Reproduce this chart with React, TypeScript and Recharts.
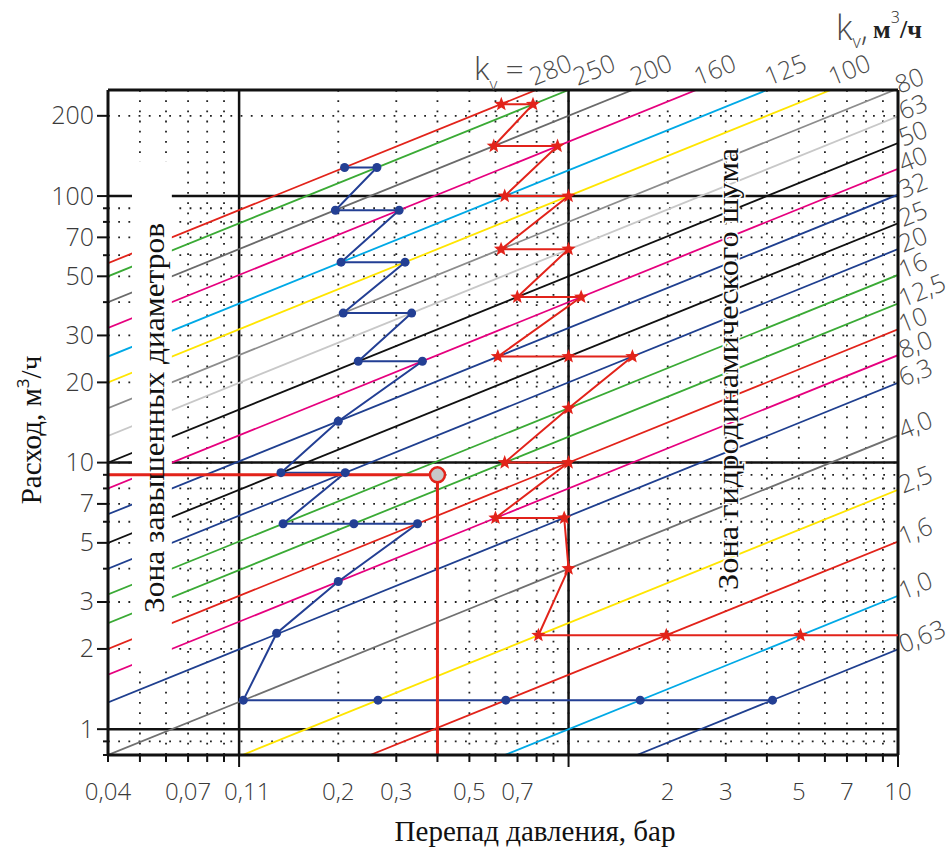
import React from "react";
import {
  LineChart,
  Line,
  XAxis,
  YAxis,
  CartesianGrid,
  ReferenceLine,
  ReferenceArea,
  LabelList,
} from "recharts";

// Kv lines, m3/h (labels as printed on the top and right edges)
const kvValues = [280, 250, 200, 160, 125, 100, 80, 63, 50, 40, 32, 25, 20, 16, 12.5, 10, 8, 6.3, 4, 2.5, 1.6, 1, 0.63];
const kvLabels = ["280", "250", "200", "160", "125", "100", "80", "63", "50", "40", "32", "25", "20", "16", "12,5", "10", "8,0", "6,3", "4,0", "2,5", "1,6", "1,0", "0,63"];
const kvColors = [
  "#e2231a", "#3aaa35", "#6a6a6a", "#e6007e", "#00a9e6", "#ffe500", "#8c8c8c", "#c8c8c8",
  "#111111", "#e6007e", "#1f3f8f", "#111111", "#1f3f8f", "#3aaa35", "#3aaa35", "#e2231a",
  "#e6007e", "#1f3f8f", "#707070", "#ffe500", "#e2231a", "#00a9e6", "#1f3f8f",
];

// axes
const xTicks = [0.04, 0.05, 0.06, 0.07, 0.08, 0.09, 0.1, 0.2, 0.3, 0.4, 0.5, 0.6, 0.7, 0.8, 0.9, 1, 2, 3, 4, 5, 6, 7, 8, 9, 10];
const xTickLabels: Record<string, string> = {
  "0.04": "0,04", "0.07": "0,07", "0.1": "0,11", "0.2": "0,2", "0.3": "0,3",
  "0.5": "0,5", "0.7": "0,7", "2": "2", "3": "3", "5": "5", "7": "7", "10": "10",
};
const yTicks = [0.8, 0.9, 1, 2, 3, 4, 5, 6, 7, 8, 9, 10, 20, 30, 40, 50, 60, 70, 80, 90, 100, 200];
const yTickLabels: Record<string, string> = {
  "1": "1", "2": "2", "3": "3", "5": "5", "7": "7", "10": "10",
  "20": "20", "30": "30", "50": "50", "70": "70", "100": "100", "200": "200",
};
const majorX = [0.1, 1];
const majorY = [1, 10, 100];

// blue selection path (dots), pressure drop in bar / flow in m3/h
const blueDp = [0.209, 0.262, 0.196, 0.306, 0.204, 0.319, 0.207, 0.334, 0.23, 0.36, 0.2, 0.134, 0.21, 0.136, 0.223, 0.348, 0.2, 0.13, 0.103, 0.264, 0.645, 1.65, 4.16];
const blueQ = [128, 128, 88.5, 88.5, 56.5, 56.5, 36.4, 36.4, 24, 24, 14.3, 9.17, 9.17, 5.9, 5.9, 5.9, 3.58, 2.29, 1.285, 1.285, 1.285, 1.285, 1.285];

// red selection path (stars)
const redDp = [0.625, 0.78, 0.593, 0.926, 0.64, 1.0, 0.624, 1.0, 0.699, 1.092, 0.61, 1.0, 1.5625, 1.0, 0.64, 1.0, 0.6, 0.97, 1.0, 0.81, 1.98, 5.06, 10];
const redQ = [221, 221, 154, 154, 100, 100, 63.2, 63.2, 41.8, 41.8, 25, 25, 25, 16, 10, 10, 6.2, 6.2, 4.0, 2.25, 2.25, 2.25, 2.25];

// example operating point
const opDp = [0.04, 0.4, 0.4];
const opQ = [9, 9, 0.8];

const X_MIN = 0.04;
const X_MAX = 10;
const Y_MIN = 0.8;
const Y_MAX = 250;

const kvSeries = kvValues.map((kv, i) => {
  const x0 = Math.max(X_MIN, (Y_MIN / kv) ** 2);
  const x1 = Math.min(X_MAX, (Y_MAX / kv) ** 2);
  return [
    { x: x0, y: kv * Math.sqrt(x0) },
    { x: x1, y: kv * Math.sqrt(x1), lbl: kvLabels[i] },
  ];
});
const blueData = blueDp.map((x, i) => ({ x, y: blueQ[i] }));
const redData = redDp.map((x, i) => ({ x, y: redQ[i] }));
const opData = opDp.map((x, i) => ({ x, y: opQ[i] }));

const SANS = "'Open Sans', 'DejaVu Sans', sans-serif";
const SERIF = "'Liberation Serif', 'DejaVu Serif', serif";
const RED = "#e2231a";
const BLUE = "#233f94";

const XTick = (props: any) => {
  const { x, y, payload } = props;
  const v = payload.value;
  const label = xTickLabels[String(v)];
  const long = v === 0.1 || v === 1 || v === 10;
  return (
    <g>
      <line x1={x} x2={x} y1={y} y2={y + (long ? 12 : 7)} stroke="#111" strokeWidth={2} />
      {label && (
        <text
          x={v === 0.1 ? x - 15 : x}
          y={y + 45}
          textAnchor={v === 0.1 ? "start" : "middle"}
          fontFamily={SANS}
          fontWeight={300}
          fontSize={24}
          fill="#3a3a3a"
        >
          {label}
        </text>
      )}
    </g>
  );
};

const YTick = (props: any) => {
  const { x, y, payload } = props;
  const label = yTickLabels[String(payload.value)];
  return (
    <g>
      <line x1={x - (label ? 11 : 5)} x2={x} y1={y} y2={y} stroke="#111" strokeWidth={2} />
      {label && (
        <text x={x - 14} y={y + 8.5} textAnchor="end" fontFamily={SANS} fontWeight={300} fontSize={25} fill="#3a3a3a">
          {label}
        </text>
      )}
    </g>
  );
};

const renderKvLabel = (props: any) => {
  const { x, y, value } = props;
  if (!value) return null;
  const right = x > 890;
  const nudge = value === "280" ? -4 : value === "250" ? 7 : 0;
  const tx = right ? x + 5 : x + 2 + nudge;
  const ty = right ? y + 4 : y - 4;
  return (
    <text
      transform={`translate(${tx},${ty}) rotate(-22)`}
      fontFamily={SANS}
      fontWeight={300}
      fontSize={25}
      fill="#4a4a4a"
    >
      {value}
    </text>
  );
};

const BlueDot = (props: any) => {
  const { cx, cy, index } = props;
  return <circle key={`b${index}`} cx={cx} cy={cy} r={4.5} fill={BLUE} />;
};

const starPoints = (cx: number, cy: number, ro: number, ri: number) => {
  const pts: string[] = [];
  for (let k = 0; k < 10; k++) {
    const r = k % 2 === 0 ? ro : ri;
    const a = -Math.PI / 2 + (k * Math.PI) / 5;
    pts.push(`${cx + r * Math.cos(a)},${cy + r * Math.sin(a)}`);
  }
  return pts.join(" ");
};

const RedStar = (props: any) => {
  const { cx, cy, index } = props;
  if (index === redData.length - 1) return <g key={`r${index}`} />;
  return <polygon key={`r${index}`} points={starPoints(cx, cy, 7.5, 3.2)} fill={RED} />;
};

const OpDot = (props: any) => {
  const { cx, cy, index } = props;
  if (index !== 1) return <g key={`o${index}`} />;
  return <circle key={`o${index}`} cx={cx} cy={cy} r={7.5} fill="#c8c8c8" stroke={RED} strokeWidth={2.5} />;
};

export default function App() {
  return (
    <div style={{ position: "absolute", left: 0, top: 0, width: 951, height: 849, background: "#fff" }}>
      <LineChart width={951} height={849} margin={{ top: 90, right: 53, bottom: 0, left: 0 }}>
        <CartesianGrid stroke="#222" strokeWidth={1.8} strokeDasharray="1.8 8.4" />
        <XAxis
          dataKey="x"
          type="number"
          scale="log"
          domain={[X_MIN, X_MAX]}
          allowDataOverflow
          ticks={xTicks}
          interval={0}
          height={94}
          tickSize={0}
          tickMargin={0}
          tickLine={false}
          axisLine={{ stroke: "#111", strokeWidth: 3 }}
          tick={<XTick />}
        />
        <YAxis
          dataKey="y"
          type="number"
          scale="log"
          domain={[Y_MIN, Y_MAX]}
          allowDataOverflow
          ticks={yTicks}
          interval={0}
          width={108}
          tickSize={0}
          tickMargin={0}
          tickLine={false}
          axisLine={{ stroke: "#111", strokeWidth: 3 }}
          tick={<YTick />}
        />
        {majorX.map((v) => (
          <ReferenceLine key={`mx${v}`} x={v} stroke="#111" strokeWidth={2.5} zIndex={50} />
        ))}
        {majorY.map((v) => (
          <ReferenceLine key={`my${v}`} y={v} stroke="#111" strokeWidth={2.5} zIndex={50} />
        ))}
        {kvSeries.map((d, i) => (
          <Line
            key={`kv${i}`}
            data={d}
            dataKey="y"
            stroke={kvColors[i]}
            strokeWidth={1.8}
            dot={false}
            activeDot={false}
            isAnimationActive={false}
            zIndex={100}
          >
            <LabelList dataKey="lbl" content={renderKvLabel} />
          </Line>
        ))}
        <ReferenceArea
          x1={0.0473}
          x2={0.0625}
          y1={1.66}
          y2={135}
          fill="#fff"
          fillOpacity={1}
          stroke="none"
          zIndex={200}
        />
        <ReferenceLine y={Y_MAX} stroke="#111" strokeWidth={3} zIndex={250} />
        <ReferenceLine x={X_MAX} stroke="#111" strokeWidth={3} zIndex={250} />
        <Line
          data={blueData}
          dataKey="y"
          stroke={BLUE}
          strokeWidth={2}
          dot={BlueDot}
          activeDot={false}
          isAnimationActive={false}
          zIndex={300}
        />
        <Line
          data={redData}
          dataKey="y"
          stroke={RED}
          strokeWidth={2}
          dot={RedStar}
          activeDot={false}
          isAnimationActive={false}
          zIndex={310}
        />
        <Line
          data={opData}
          dataKey="y"
          stroke={RED}
          strokeWidth={3}
          dot={OpDot}
          activeDot={false}
          isAnimationActive={false}
          zIndex={320}
        />
      </LineChart>
      <svg width={951} height={849} style={{ position: "absolute", left: 0, top: 0, pointerEvents: "none" }}>
        <text transform="translate(164,418) rotate(-90)" textAnchor="middle" fontFamily={SERIF} fontSize={30} textLength={390} lengthAdjust="spacingAndGlyphs" fill="#111">
          Зона завышенных диаметров
        </text>
        <text
          transform="translate(738,369) rotate(-90)"
          textAnchor="middle"
          fontFamily={SERIF}
          fontSize={30}
          textLength={442}
          lengthAdjust="spacingAndGlyphs"
          fill="#111"
          stroke="#fff"
          strokeWidth={3}
          paintOrder="stroke"
        >
          Зона гидродинамического шума
        </text>
        <text transform="translate(41,430) rotate(-90)" textAnchor="middle" fontFamily={SERIF} fontSize={29} fill="#111">
          Расход, м<tspan fontFamily={SANS} fontSize={17} dy={-12}>3</tspan>
          <tspan dy={12}>/ч</tspan>
        </text>
        <text x={535} y={841} textAnchor="middle" fontFamily={SERIF} fontSize={29} fill="#111">
          Перепад давления, бар
        </text>
        <text x={474} y={80} fontFamily={SANS} fontWeight={300} fontSize={32} fill="#4a4a4a">
          k<tspan fontSize={17} dy={10}>v</tspan>
          <tspan dy={-10}> =</tspan>
        </text>
        <text x={836} y={40} fontFamily={SANS} fontWeight={300} fontSize={34} fill="#4a4a4a">
          k<tspan fontSize={18} dy={8}>v</tspan>
          <tspan dy={-8}>,</tspan>
          <tspan fontFamily={SERIF} fontWeight={700} fontSize={26} fill="#222" dx={5} dy={-2}>м</tspan>
          <tspan fontFamily={SANS} fontSize={16} fill="#222" dy={-15}>3</tspan>
          <tspan fontFamily={SERIF} fontWeight={700} fontSize={26} fill="#222" dy={15}>/ч</tspan>
        </text>
      </svg>
    </div>
  );
}
